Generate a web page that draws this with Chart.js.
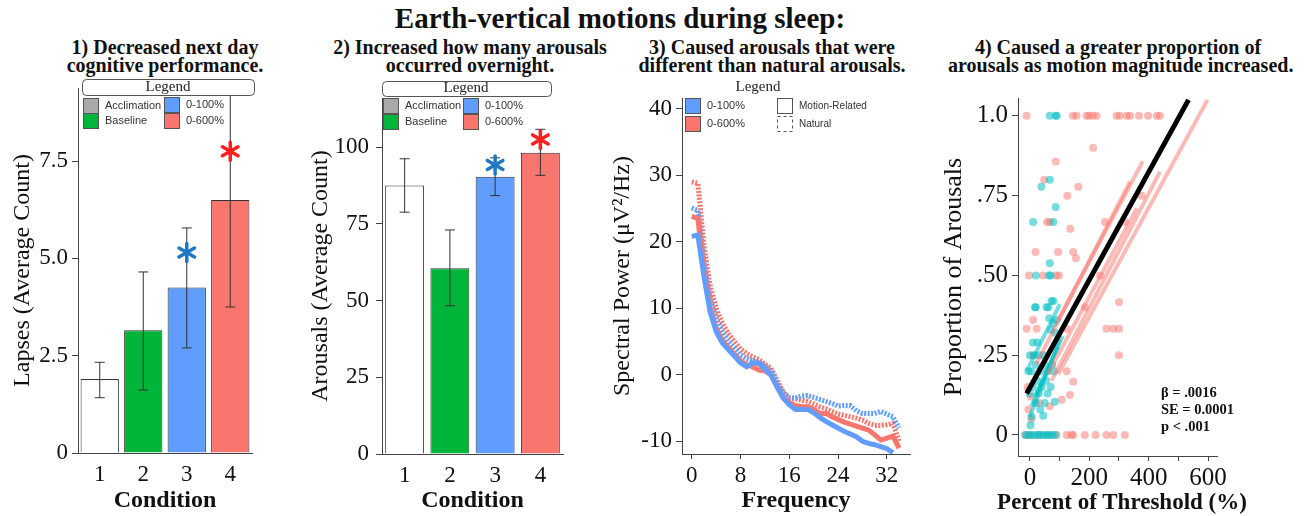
<!DOCTYPE html>
<html>
<head>
<meta charset="utf-8">
<script src="https://cdn.jsdelivr.net/npm/chart.js@4.4.1/dist/chart.umd.min.js"></script>
<style>
body { margin: 0; background: #fff; }
#page { position: relative; width: 1304px; height: 516px; overflow: hidden; font-family: "Liberation Serif", "Times New Roman", serif; color: #111; }
.title { position: absolute; text-align: center; font-weight: bold; white-space: nowrap; }
.sub { top: 38px; width: 340px; font-size: 20px; line-height: 18px; }
.stats { position: absolute; left: 1161px; top: 384px; font-size: 14.5px; line-height: 17px; font-weight: bold; }
canvas { position: absolute; top: 0; }
</style>
</head>
<body>
<div id="page">
  <div class="title" style="left:0;width:1240px;top:2px;font-size:29px;line-height:32px;">Earth-vertical motions during sleep:</div>
  <div class="title sub" style="left:-5px">1) Decreased next day<br>cognitive performance.</div>
  <div class="title sub" style="left:300px">2) Increased how many arousals<br>occurred overnight.</div>
  <div class="title sub" style="left:602px">3) Caused arousals that were<br>different than natural arousals.</div>
  <div class="title sub" style="left:948px">4) Caused a greater proportion of<br>arousals as motion magnitude increased.</div>
  <canvas id="c1" width="300" height="516" style="left:0"></canvas>
  <canvas id="c2" width="300" height="516" style="left:300px"></canvas>
  <canvas id="c3" width="330" height="516" style="left:600px"></canvas>
  <canvas id="c4" width="374" height="516" style="left:930px"></canvas>
  <div class="stats">β = .0016<br>SE = 0.0001<br>p &lt; .001</div>
  <div class="title" style="left:972px;width:300px;top:488px;font-size:23px;line-height:28px;">Percent of Threshold (%)</div>
</div>
<script>
const serif = "'Liberation Serif', 'Times New Roman', serif";
const sans = "'Liberation Sans', Arial, sans-serif";

const green = "#00b53a", blue = "#619cff", red = "#f8766d", teal = "#00bfc4";

// panels 1 and 2
const conditions = ["1", "2", "3", "4"];
const groups = ["Acclimation", "Baseline", "0-100%", "0-600%"];
const lapsesMean = [1.9, 3.15, 4.25, 6.5];
const lapsesLow = [1.42, 1.62, 2.7, 3.75];
const lapsesHigh = [2.33, 4.65, 5.78, 9.25];
const lapsesStar = [null, null, 5.15, 7.75];
const lapsesTicks = [0, 2.5, 5, 7.5];

const arousalsMean = [87.5, 60.5, 90.3, 98.2];
const arousalsLow = [78.8, 48.3, 84.2, 90.8];
const arousalsHigh = [96.2, 73, 96.5, 105.8];
const arousalsStar = [null, null, 94.2, 102.5];
const arousalsTicks = [0, 25, 50, 75, 100];

// panel 3
const freqs = [0,1,2,3,4,5,6,7,8,9,10,11,12,13,14,15,16,17,18,19,20,21,22,23,24,25,26,27,28,29,30,31,32,33,34];
const motion100 = [20.8,21,14.8,9.5,6.5,4.8,3.8,2.8,1.8,1.2,1.8,1.7,0.8,0,-1.8,-3.5,-4.5,-5.2,-5.2,-5.2,-5.7,-6.4,-7,-7.5,-8,-8.5,-8.9,-9.3,-10,-10.3,-10.5,-10.8,-11.1,-11.7,null];
const motion600 = [23.8,23.5,15.5,10.2,7,5.2,4.1,3.1,2.1,1.5,1.2,0.7,0.6,0,-1.8,-3.4,-4.2,-4.6,-4.8,-4.8,-5.2,-5.8,-5.8,-6.3,-6.7,-7.1,-7.4,-7.7,-8,-8.3,-9,-9.8,-9.5,-9.2,-11];
const natural100 = [25.1,24.7,17,11.5,8.5,6.5,5,4,3,2.4,2.1,1.9,1.3,0.6,-1.2,-2.7,-3.4,-3.5,-3.2,-3.1,-3.4,-3.7,-4,-4.3,-4.7,-4.6,-4.6,-5.4,-5.8,-5.8,-5.8,-5.5,-5.9,-6.3,-8];
const natural600 = [29,28.8,19.5,13.5,10,7.8,6.2,5,3.9,3.2,2.7,2.3,1.6,1,-0.8,-2.6,-3.6,-3.6,-3.8,-4,-4.4,-4.8,-5.1,-5.5,-5.9,-6.1,-6.3,-6.5,-6.8,-7.3,-7.6,-7.6,-7.5,-7.3,-10];
const freqTicks = [0, 8, 16, 24, 32];
const powerTicks = [-10, 0, 10, 20, 30, 40];
const arousalTypes = ["Motion-Related", "Natural"];

// panel 4
const redPoints = [[-11,1],[145,1],[157,1],[191,1],[200,1],[212,1],[225,1],[292,1],[303,1],[326,1],[337,1],[367,1],[398,1],[427,1],[438,1],
  [213,0.9],[87,0.857],[48,0.8],[163,0.778],[126,0.75],[376,0.75],
  [58,0.667],[67,0.667],[253,0.667],[320,0.667],[136,0.646],
  [19,0.573],[95,0.573],[146,0.573],[155,0.554],
  [-3,0.5],[44,0.5],[88,0.5],[98,0.5],[236,0.5],
  [300,0.416],[185,0.4],[11,0.36],
  [-11,0.333],[23,0.333],[124,0.333],[258,0.333],[281,0.333],[300,0.333],
  [300,0.25],[124,0.2],[146,0.167],[135,0.125],[107,0.11],[67,0.09],
  [-5,0.08],[2,0.12],[5,0.05],[-8,0.15],[10,0.25],[30,0.1],
  [-15,0],[0,0],[30,0],[60,0],[90,0],[124,0],[140,0],[146,0],[185,0],[221,0],[258,0],[281,0],[320,0]];
const tealPoints = [[67,1],[87,1],[90,1],
  [67,0.8],[39,0.778],[87,0.714],[11,0.667],[79,0.667],[67,0.538],
  [20,0.5],[64,0.5],[70,0.5],
  [73,0.42],[79,0.42],[17,0.4],[20,0.4],[56,0.4],[62,0.4],[65,0.366],
  [80,0.35],[90,0.36],[70,0.33],[85,0.32],[10,0.29],[25,0.29],
  [0,0.25],[15,0.25],[30,0.25],[45,0.25],[20,0.22],[50,0.22],[75,0.22],
  [-5,0.2],[5,0.2],[35,0.2],[60,0.2],[80,0.2],[25,0.17],[55,0.17],
  [10,0.15],[40,0.15],[70,0.15],[0,0.13],[30,0.13],[60,0.13],
  [84,0.104],[20,0.1],[50,0.1],[35,0.08],[6,0.057],[45,0.06],[2,0.03],
  [-15,0],[-5,0],[5,0],[15,0],[25,0],[35,0],[45,0],[55,0],[65,0],[75,0],[85,0]];
const overallFit = [[-11,0.13],[534,1.05]];
const redFits = [
  [[95,0.19],[598,1.05]],
  [[73,0.17],[438,0.825]],
  [[95,0.36],[380,0.857]],
  [[20,0.22],[337,0.794]],
  [[60,0.19],[360,0.71]]
];
const tealFits = [
  [[-11,0.2],[101,0.41]],
  [[0,0.057],[101,0.3]],
  [[17,0.12],[95,0.277]],
  [[5,0.09],[110,0.31]]
];
const percentTicks = [0, 100, 200, 300, 400, 500, 600];
const proportionTicks = [0, 0.25, 0.5, 0.75, 1];

const toXY = pairs => pairs.map(p => ({x: p[0], y: p[1]}));

/* helpers */

function yAxis(min, max, ticks, fmt, title, width, titlePad, size, titleSize, pad) {
  return {
    min: min, max: max,
    afterBuildTicks: s => { s.ticks = ticks.map(v => ({value: v})); },
    afterFit: s => { s.width = width; },
    border: {color: "#444", width: 1},
    grid: {drawOnChartArea: false, tickLength: 6, color: "#444"},
    ticks: {font: {family: serif, size: size}, color: "#111", padding: pad || 4, callback: fmt},
    title: {display: true, text: title, font: {family: serif, size: titleSize}, color: "#111", padding: {top: titlePad}}
  };
}

function xTitle(text, size) {
  return {display: true, text: text, font: {family: serif, size: size, weight: "bold"}, color: "#111", padding: {top: 0, bottom: 1}};
}

const flatTicks = {maxRotation: 0, minRotation: 0, autoSkip: false};

function makeErrorBars(low, high) {
  return {
    id: "errorBars",
    afterDatasetsDraw(chart) {
      const {ctx, scales: {x, y}} = chart;
      ctx.save();
      ctx.strokeStyle = "#333";
      ctx.lineWidth = 1;
      low.forEach((lo, i) => {
        const px = x.getPixelForValue(i);
        const y1 = y.getPixelForValue(lo), y2 = y.getPixelForValue(high[i]);
        ctx.beginPath();
        ctx.moveTo(px, y1); ctx.lineTo(px, y2);
        ctx.moveTo(px - 5, y1); ctx.lineTo(px + 5, y1);
        ctx.moveTo(px - 5, y2); ctx.lineTo(px + 5, y2);
        ctx.stroke();
      });
      ctx.restore();
    }
  };
}

function makeStars(values, colors) {
  return {
    id: "stars",
    afterDraw(chart) {
      const {ctx, scales: {x, y}} = chart;
      values.forEach((v, i) => {
        if (v === null) return;
        const cx = x.getPixelForValue(i), cy = y.getPixelForValue(v);
        ctx.save();
        ctx.strokeStyle = colors[i];
        ctx.lineWidth = 3.5;
        ctx.lineCap = "round";
        for (let k = 0; k < 3; k++) {
          const a = Math.PI / 2 + k * Math.PI / 3, r = 9;
          ctx.beginPath();
          ctx.moveTo(cx + r * Math.cos(a), cy + r * Math.sin(a));
          ctx.lineTo(cx - r * Math.cos(a), cy - r * Math.sin(a));
          ctx.stroke();
        }
        ctx.restore();
      });
    }
  };
}

// legend drawn by hand: rounded "Legend" header plus swatches
function makeLegend(spec) {
  return {
    id: "boxLegend",
    afterDraw(chart) {
      const ctx = chart.ctx;
      ctx.save();
      if (spec.box) {
        const b = spec.box;
        ctx.fillStyle = "#fff";
        ctx.strokeStyle = "#555";
        ctx.lineWidth = 1;
        ctx.beginPath();
        ctx.roundRect(b.x + 0.5, b.y + 0.5, b.w, b.h, 4);
        ctx.fill();
        ctx.stroke();
      }
      ctx.fillStyle = "#222";
      ctx.font = "15px " + serif;
      ctx.textAlign = "center";
      ctx.textBaseline = "middle";
      ctx.fillText("Legend", spec.head.x, spec.head.y);
      ctx.textAlign = "left";
      spec.items.forEach(it => {
        ctx.fillStyle = it.fill;
        ctx.fillRect(it.x, it.y, 15, 15);
        ctx.strokeStyle = "#555";
        ctx.setLineDash(it.dash ? [3, 3] : []);
        ctx.strokeRect(it.x + 0.5, it.y + 0.5, 15, 15);
        ctx.setLineDash([]);
        ctx.fillStyle = "#333";
        ctx.font = (it.size || 11) + "px " + sans;
        ctx.fillText(it.label, it.x + 22, it.y + 8);
      });
      ctx.restore();
    }
  };
}

function barChart(id, means, low, high, stars, ticks, fmt, ymax, title, geo, legend) {
  return new Chart(document.getElementById(id), {
    type: "bar",
    data: {
      labels: conditions,
      datasets: [{
        data: means,
        backgroundColor: ["#ffffff", green, blue, red],
        borderColor: "#333",
        borderWidth: 1,
        barPercentage: geo.bar,
        categoryPercentage: 1
      }]
    },
    options: {
      responsive: false,
      animation: false,
      layout: {padding: {left: 0, right: geo.right, top: geo.top, bottom: 0}},
      plugins: {legend: {display: false}, tooltip: {enabled: false}},
      scales: {
        x: {
          afterFit: s => { s.height = geo.bottom; },
          border: {color: "#444", width: 1},
          grid: {drawOnChartArea: false, drawTicks: false},
          ticks: Object.assign({font: {family: serif, size: 23}, color: "#111", padding: 8}, flatTicks),
          title: xTitle("Condition", 24)
        },
        y: yAxis(0, ymax, ticks, fmt, title, geo.left, geo.titlePad, 23, 24, geo.tickPad)
      }
    },
    plugins: [makeErrorBars(low, high), makeStars(stars, [null, null, "#1f78c4", "#ff1f1f"]), makeLegend(legend)]
  });
}

/* 1) lapses */

barChart("c1", lapsesMean, lapsesLow, lapsesHigh, lapsesStar, lapsesTicks,
  v => v === 0 ? "0" : v.toFixed(1), 9.375, "Lapses (Average Count)",
  {left: 78, right: 48, top: 88, bottom: 63, bar: 0.88, titlePad: 8},
  {box: {x: 82, y: 79, w: 172, h: 16}, head: {x: 168, y: 87},
   items: [
     {x: 83, y: 98, fill: "#aaaaaa", label: groups[0]},
     {x: 83, y: 113, fill: green, label: groups[1]},
     {x: 164, y: 97, fill: blue, label: groups[2]},
     {x: 164, y: 113, fill: red, label: groups[3]}
   ]});

/* 2) arousals */

barChart("c2", arousalsMean, arousalsLow, arousalsHigh, arousalsStar, arousalsTicks,
  v => String(v), 116, "Arousals (Average Count)",
  {left: 82, right: 37, top: 98, bottom: 62, bar: 0.86, titlePad: 6, tickPad: 7},
  {box: {x: 82, y: 81, w: 169, h: 15}, head: {x: 166, y: 88},
   items: [
     {x: 83, y: 98, fill: "#aaaaaa", label: groups[0]},
     {x: 83, y: 114, fill: green, label: groups[1]},
     {x: 163, y: 98, fill: blue, label: groups[2]},
     {x: 163, y: 114, fill: red, label: groups[3]}
   ]});

/* 3) spectral power */

function powerLine(values, color, dashed) {
  return {
    data: freqs.map((f, i) => ({x: f, y: values[i]})),
    borderColor: color,
    borderWidth: 5,
    borderDash: dashed ? [2, 1.5] : [],
    pointRadius: 0,
    tension: 0,
    fill: false
  };
}

new Chart(document.getElementById("c3"), {
  type: "line",
  data: {
    datasets: [
      powerLine(motion100, blue, false),
      powerLine(motion600, red, false),
      powerLine(natural100, blue, true),
      powerLine(natural600, red, true)
    ]
  },
  options: {
    responsive: false,
    animation: false,
    layout: {padding: {left: 0, right: 20, top: 98, bottom: 0}},
    plugins: {legend: {display: false}, tooltip: {enabled: false}},
    scales: {
      x: {
        type: "linear", min: -1.6, max: 35.8,
        afterBuildTicks: s => { s.ticks = freqTicks.map(v => ({value: v})); },
        afterFit: s => { s.height = 62; },
        border: {color: "#444", width: 1},
        grid: {drawOnChartArea: false, tickLength: 5, color: "#444"},
        ticks: Object.assign({font: {family: serif, size: 23}, color: "#111", padding: 3}, flatTicks),
        title: xTitle("Frequency", 24)
      },
      y: yAxis(-11.9, 41.6, powerTicks, v => String(v), "Spectral Power (μV²/Hz)", 82, 8, 23, 24)
    }
  },
  plugins: [makeLegend({head: {x: 158, y: 87},
    items: [
      {x: 85, y: 98, fill: blue, label: groups[2]},
      {x: 85, y: 116, fill: red, label: groups[3]},
      {x: 177, y: 98, fill: "#ffffff", label: arousalTypes[0], size: 10},
      {x: 177, y: 116, fill: "#ffffff", dash: true, label: arousalTypes[1], size: 10}
    ]})]
});

/* 4) proportion of arousals */

function fitLine(pair, color, width) {
  return {type: "line", data: toXY(pair), borderColor: color, borderWidth: width, pointRadius: 0, showLine: true, fill: false};
}

new Chart(document.getElementById("c4"), {
  type: "scatter",
  data: {
    datasets: [fitLine(overallFit, "#000", 5)]
      .concat(redFits.map(p => fitLine(p, "rgba(248,118,109,0.5)", 4)))
      .concat(tealFits.map(p => fitLine(p, "rgba(0,191,196,0.55)", 4)))
      .concat([
        {data: toXY(tealPoints), backgroundColor: "rgba(0,191,196,0.55)", borderWidth: 0, pointRadius: 4},
        {data: toXY(redPoints), backgroundColor: "rgba(248,118,109,0.5)", borderWidth: 0, pointRadius: 4}
      ])
  },
  options: {
    responsive: false,
    animation: false,
    layout: {padding: {left: 0, right: 87, top: 98, bottom: 0}},
    plugins: {legend: {display: false}, tooltip: {enabled: false}},
    scales: {
      x: {
        type: "linear", min: -40, max: 630,
        afterBuildTicks: s => { s.ticks = percentTicks.map(v => ({value: v})); },
        afterFit: s => { s.height = 60; },
        border: {color: "#444", width: 1},
        grid: {drawOnChartArea: false, tickLength: 5, color: "#444"},
        ticks: Object.assign({font: {family: serif, size: 25}, color: "#111", padding: 2, callback: v => v % 200 === 0 ? String(v) : ""}, flatTicks)
      },
      y: yAxis(-0.066, 1.056, proportionTicks,
        v => v === 0 ? "0" : v === 1 ? "1.0" : v.toFixed(2).slice(1),
        "Proportion of Arousals", 88, 9, 25, 26)
    }
  }
});
</script>
</body>
</html>
